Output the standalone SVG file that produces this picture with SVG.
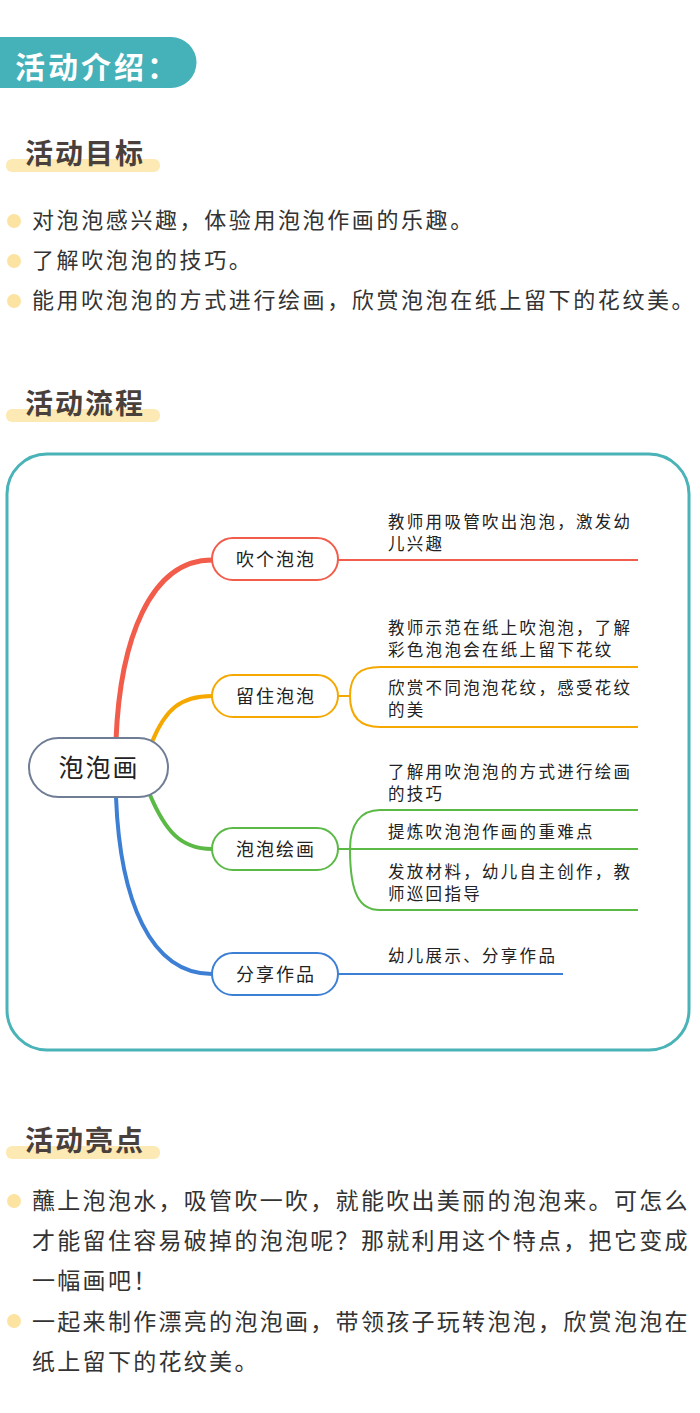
<svg xmlns="http://www.w3.org/2000/svg" width="700" height="1413" viewBox="0 0 700 1413">
<style>
text{font-family:"Noto Sans CJK SC","Noto Sans",sans-serif;letter-spacing:2px}
.h{font-size:28px;font-weight:bold;fill:#4a403b}
.bar{fill:#fde9b4}
.dot{fill:#fde3a2}
.b{font-size:22px;fill:#333;letter-spacing:2.6px}
.p{font-size:23px;fill:#333;letter-spacing:2.3px}
.n{fill:#fff;stroke-width:2}
.nt{font-size:18px;fill:#222;text-anchor:middle}
.c{font-size:16.5px;fill:#222;letter-spacing:2.3px}
.l{fill:none;stroke-width:2}
</style>
<rect width="700" height="1413" fill="#fff"/>
<g id="header">
<path d="M0 37 H171 A25.5 25.5 0 0 1 171 88 H0 Z" fill="#45b1b9"/>
<text x="15" y="78" font-size="30" font-weight="bold" fill="#fff" style="letter-spacing:3px">活动介绍：</text>
</g>
<g id="goals">
<rect class="bar" x="6" y="159" width="154" height="13" rx="6"/>
<text class="h" x="25" y="164">活动目标</text>
<circle class="dot" cx="14" cy="221" r="7"/><text class="b" x="32" y="228">对泡泡感兴趣，体验用泡泡作画的乐趣。</text>
<circle class="dot" cx="14" cy="261" r="7"/><text class="b" x="32" y="268">了解吹泡泡的技巧。</text>
<circle class="dot" cx="14" cy="301" r="7"/><text class="b" x="32" y="308">能用吹泡泡的方式进行绘画，欣赏泡泡在纸上留下的花纹美。</text>
</g>
<g id="flowtitle">
<rect class="bar" x="6" y="409" width="154" height="13" rx="6"/>
<text class="h" x="25" y="414">活动流程</text>
</g>
<rect x="7" y="454" width="682" height="596" rx="40" fill="none" stroke="#4ab3b8" stroke-width="3"/>
<g id="connectors">
<path d="M116 740 C120 640,150 560,212 560" fill="none" stroke="#f25c4b" stroke-width="5"/>
<path d="M152 742 C165 710,180 696,212 696" fill="none" stroke="#f5a800" stroke-width="4"/>
<path d="M150 795 C165 830,180 849,212 849" fill="none" stroke="#5bb946" stroke-width="4"/>
<path d="M116 797 C120 900,150 974,212 974" fill="none" stroke="#3d7fd4" stroke-width="4"/>
<path class="l" stroke="#f25c4b" d="M338 560 H638"/>
<path class="l" stroke="#f5a800" d="M338 696 H350 C350 675,360 667,380 667 H638 M350 696 C350 717,360 727,380 727 H638"/>
<path class="l" stroke="#5bb946" d="M338 849 H350 C350 825,360 810,380 810 H638 M350 849 H638 M350 849 C350 895,360 910,380 910 H638"/>
<path class="l" stroke="#3d7fd4" d="M338 974 H563"/>
</g>
<g id="root"><rect x="29" y="738" width="139" height="59" rx="29.5" fill="#fff" stroke="#6f7d95" stroke-width="2"/><text x="99" y="777" font-size="25" text-anchor="middle" fill="#222">泡泡画</text></g>
<g id="n1"><rect class="n" x="212" y="538" width="126" height="42" rx="21" stroke="#f25c4b"/><text class="nt" x="276" y="566">吹个泡泡</text></g>
<g id="n2"><rect class="n" x="212" y="675" width="126" height="42" rx="21" stroke="#f5a800"/><text class="nt" x="276" y="703">留住泡泡</text></g>
<g id="n3"><rect class="n" x="212" y="828" width="126" height="42" rx="21" stroke="#5bb946"/><text class="nt" x="276" y="856">泡泡绘画</text></g>
<g id="n4"><rect class="n" x="212" y="953" width="126" height="42" rx="21" stroke="#3d7fd4"/><text class="nt" x="276" y="981">分享作品</text></g>
<g id="leaves">
<text class="c" x="388" y="528">教师用吸管吹出泡泡，激发幼</text><text class="c" x="388" y="550">儿兴趣</text>
<text class="c" x="388" y="634">教师示范在纸上吹泡泡，了解</text><text class="c" x="388" y="656">彩色泡泡会在纸上留下花纹</text>
<text class="c" x="388" y="694">欣赏不同泡泡花纹，感受花纹</text><text class="c" x="388" y="716">的美</text>
<text class="c" x="388" y="778">了解用吹泡泡的方式进行绘画</text><text class="c" x="388" y="800">的技巧</text>
<text class="c" x="388" y="838">提炼吹泡泡作画的重难点</text>
<text class="c" x="388" y="878">发放材料，幼儿自主创作，教</text><text class="c" x="388" y="900">师巡回指导</text>
<text class="c" x="388" y="962">幼儿展示、分享作品</text>
</g>
<g id="highlights">
<rect class="bar" x="6" y="1146" width="154" height="13" rx="6"/>
<text class="h" x="25" y="1151">活动亮点</text>
<circle class="dot" cx="14" cy="1201" r="7"/>
<text class="p" x="32" y="1209">蘸上泡泡水，吸管吹一吹，就能吹出美丽的泡泡来。可怎么</text>
<text class="p" x="32" y="1249">才能留住容易破掉的泡泡呢？那就利用这个特点，把它变成</text>
<text class="p" x="32" y="1289">一幅画吧！</text>
<circle class="dot" cx="14" cy="1321" r="7"/>
<text class="p" x="32" y="1330">一起来制作漂亮的泡泡画，带领孩子玩转泡泡，欣赏泡泡在</text>
<text class="p" x="32" y="1370">纸上留下的花纹美。</text>
</g>
</svg>
